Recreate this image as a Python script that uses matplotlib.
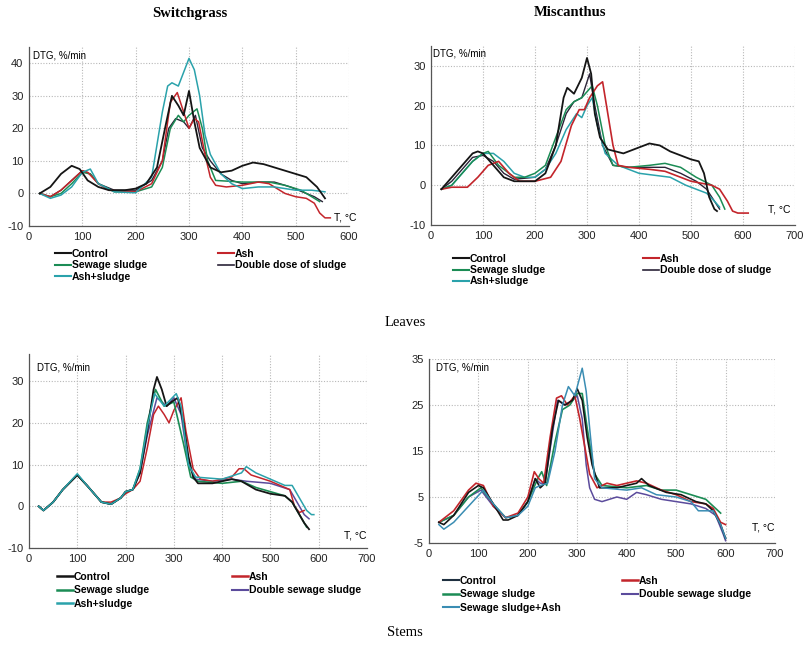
import matplotlib
matplotlib.use("Agg")
import matplotlib.pyplot as plt
from matplotlib.lines import Line2D

plt.rcParams['font.family'] = ['Liberation Sans', 'DejaVu Sans']
plt.rcParams['axes.unicode_minus'] = False

# ---- Switchgrass, leaves ----
sgl_control_T = [20, 40, 60, 80, 95, 110, 130, 150, 180, 200, 220, 240, 255, 268, 280, 290, 300, 310, 320, 340, 360, 380, 400, 420, 440, 460, 480, 500, 520, 540, 555]
sgl_control = [0, 2, 6, 8.5, 7.5, 4, 2, 1, 1, 1.5, 3, 8, 20, 30, 27, 24, 31.5, 22, 14, 8, 6.5, 7, 8.5, 9.5, 9, 8, 7, 6, 5, 2, -1.5]
sgl_ash_T = [20, 40, 60, 80, 100, 110, 130, 150, 200, 230, 250, 265, 278, 290, 300, 310, 318, 330, 340, 350, 370, 400, 430, 450, 480, 500, 520, 535, 545, 555, 565]
sgl_ash = [0, -1, 1, 4, 7, 6.5, 3, 1, 0.5, 3, 10, 28, 31, 25, 20, 23, 22, 12, 5, 2.5, 2, 2.5, 3.5, 3, 0, -1, -1.5, -3, -6, -7.5, -7.5]
sgl_sludge_T = [20, 40, 60, 80, 100, 115, 130, 160, 200, 230, 250, 265, 280, 290, 300, 315, 325, 335, 350, 400, 450, 480, 510, 530, 545]
sgl_sludge = [0, -1, 0, 3, 6.5, 6, 3, 0.5, 0.5, 2, 8, 20, 24, 22, 24, 26, 20, 10, 4, 3.5, 3.5, 2.5, 1, -1, -2.5]
sgl_ashsl_T = [20, 40, 60, 80, 100, 115, 130, 160, 200, 230, 250, 260, 268, 280, 300, 310, 320, 330, 340, 360, 380, 400, 430, 460, 500, 530, 555]
sgl_ashsl = [0, -1.5, -0.5, 2, 6.5, 7.5, 3, 0.5, 0.2, 5, 25, 33, 34, 33, 41.5, 38, 30, 18, 12, 6, 3, 1.5, 2, 2, 1, 1, 0.5]
sgl_double_T = [20, 40, 60, 80, 100, 115, 130, 160, 200, 230, 250, 262, 275, 290, 300, 312, 325, 340, 360, 380, 400, 430, 460, 490, 520, 535, 550]
sgl_double = [0, -1, 1, 4, 7, 6, 3, 1, 1, 4, 10, 20, 23, 22, 20, 24, 14, 10, 6, 4, 3, 3.5, 3.5, 2, 0, -1, -2.5]

# ---- Miscanthus, leaves ----
msl_control_T = [20, 40, 60, 80, 90, 100, 120, 140, 160, 200, 220, 240, 255, 262, 275, 290, 300, 308, 315, 325, 340, 370, 400, 420, 440, 460, 480, 500, 515, 525, 535, 545, 550]
msl_control = [-1, 2, 5, 8, 8.5, 8, 5, 2, 1, 1, 3, 10, 22, 24.5, 23, 27, 32, 28, 18, 12, 9, 8, 9.5, 10.5, 10, 8.5, 7.5, 6.5, 6, 3, -3, -6, -6.5]
msl_ash_T = [20, 40, 70, 90, 110, 130, 150, 170, 200, 230, 250, 270, 285, 295, 305, 320, 330, 340, 350, 360, 380, 420, 450, 480, 500, 520, 540, 555, 570, 580, 590, 610]
msl_ash = [-1, -0.5, -0.5, 2, 5, 6, 3, 1, 1, 2, 6, 15, 19, 19, 22, 25, 26, 18, 10, 5, 4.5, 4, 3.5, 2, 1, 0.5, 0, -1, -4, -6.5, -7, -7]
msl_sludge_T = [20, 40, 60, 80, 100, 110, 130, 160, 180, 200, 220, 240, 260, 275, 290, 310, 320, 335, 350, 380, 420, 450, 480, 510, 540, 555, 565]
msl_sludge = [-1, 0, 3, 6, 8, 8.5, 5, 2, 2, 3, 5, 12, 19, 21, 22, 25, 20, 10, 5, 4.5, 5, 5.5, 4.5, 2, 0, -3, -6]
msl_ashsl_T = [20, 40, 60, 80, 100, 120, 140, 160, 180, 200, 220, 240, 260, 280, 290, 300, 310, 320, 335, 360, 380, 400, 430, 460, 490, 510, 530, 545, 555]
msl_ashsl = [-1, 0, 3, 6, 8, 8, 6, 3, 2, 2, 4, 8, 14, 18, 17, 20, 22, 15, 8, 5, 4, 3, 2.5, 2, 0, -1, -2, -4, -5.5]
msl_double_T = [20, 40, 60, 80, 100, 120, 140, 160, 200, 220, 240, 260, 275, 290, 305, 315, 330, 350, 380, 420, 450, 480, 510, 530, 545, 555]
msl_double = [-1, 1, 4, 7, 7.5, 6, 3, 1.5, 2, 4, 10, 18, 21, 22, 28, 20, 10, 5, 4.5, 4.5, 4.5, 3, 1, -1, -4, -6]

# ---- Switchgrass, stems ----
sgs_control_T = [20, 30, 50, 70, 100, 120, 150, 170, 190, 200, 215, 230, 245, 258, 265, 275, 285, 295, 308, 320, 330, 340, 350, 380, 420, 440, 470, 500, 530, 545, 560, 570, 580]
sgs_control = [0, -1, 1, 4, 7.5, 5, 1, 0.5, 2, 3.5, 4, 8, 18, 28, 31, 28, 24, 25, 26, 20, 12, 7, 5.5, 5.5, 6.5, 6, 4, 3, 2.5, 1, -2, -4, -5.5]
sgs_ash_T = [20, 30, 50, 70, 100, 120, 150, 170, 190, 200, 215, 230, 245, 258, 268, 280, 290, 300, 315, 325, 340, 355, 380, 420, 435, 445, 460, 500, 540, 550, 560, 570]
sgs_ash = [0, -1, 1, 4, 7.5, 5, 1, 1, 2, 3, 4, 6, 14, 22, 24, 22, 20, 23, 26, 18, 9, 6.5, 6, 7, 9, 9, 7.5, 6, 4, 0, -1.5, -1]
sgs_sludge_T = [20, 30, 50, 70, 100, 120, 150, 170, 190, 200, 215, 230, 245, 262, 280, 300, 320, 335, 350, 400, 440, 470, 500, 530, 545, 560, 575]
sgs_sludge = [0, -1, 1, 4, 7.5, 5, 1, 0.5, 2, 3.5, 4, 9, 20, 28, 24, 25, 15, 7, 6, 5.5, 6, 4.5, 3.5, 2.5, 1, -2, -5]
sgs_double_T = [20, 30, 50, 70, 100, 120, 150, 170, 190, 200, 215, 230, 245, 265, 285, 300, 315, 330, 345, 380, 420, 450, 500, 540, 555, 570, 580]
sgs_double = [0, -1, 1, 4, 7.5, 5, 1, 0.5, 2, 3.5, 4, 8, 17, 26, 24, 26, 22, 10, 6.5, 6, 6.5, 6, 5.5, 4, 1, -2, -3]
sgs_ashsl_T = [20, 30, 50, 70, 100, 120, 150, 170, 190, 200, 215, 230, 245, 260, 280, 305, 315, 330, 345, 400, 440, 450, 470, 500, 530, 545, 560, 575, 585, 590]
sgs_ashsl = [0, -1, 1, 4, 7.8, 5, 1, 0.5, 2, 3.5, 4, 9, 19, 27, 24, 27, 24, 10, 7, 6.5, 8, 9.5, 8, 6.5, 5, 5, 2, -1, -2, -2]

# ---- Miscanthus, stems ----
mss_control_T = [20, 30, 50, 80, 100, 110, 130, 150, 160, 180, 200, 215, 225, 235, 250, 262, 275, 290, 300, 310, 320, 330, 345, 380, 400, 420, 430, 445, 480, 510, 540, 560, 575, 590, 600]
mss_control = [-0.5, -1, 1, 6, 7.5, 7, 3.5, 0, 0, 1, 4, 9, 7, 8, 20, 26, 25, 26, 28.5, 26, 18, 12, 7, 7, 7.5, 8, 9, 7.5, 6, 5.5, 4, 3.5, 2, -1, -4]
mss_ash_T = [20, 50, 80, 95, 110, 130, 155, 180, 200, 213, 222, 232, 245, 258, 268, 280, 295, 305, 315, 325, 340, 360, 380, 400, 420, 440, 470, 500, 530, 560, 575, 590, 600]
mss_ash = [-0.5, 2, 6.5, 8, 7.5, 3, 0.5, 1.5, 5, 10.5, 9, 8, 18, 26.5, 27, 25, 27, 22, 16, 10, 7, 8, 7.5, 8, 8.5, 8, 6.5, 5.5, 4, 3.5, 2.5, -0.5, -1]
mss_sludge_T = [20, 50, 80, 105, 130, 155, 180, 200, 220, 228, 238, 255, 270, 285, 300, 310, 320, 335, 350, 400, 440, 470, 500, 530, 560, 580, 590]
mss_sludge = [-0.5, 1, 5, 7, 3.5, 0.5, 1, 4, 9, 10.5, 7.5, 17, 24, 25, 27.5, 27.5, 20, 10, 7.5, 7, 7.5, 6.5, 6.5, 5.5, 4.5, 2.5, 1.5]
mss_double_T = [20, 50, 80, 105, 130, 155, 180, 200, 215, 225, 235, 250, 260, 275, 290, 300, 310, 318, 325, 335, 350, 380, 400, 420, 440, 470, 500, 530, 560, 580, 595, 600]
mss_double = [-0.5, 1, 5, 6.5, 3, 0.5, 1, 4, 9, 8, 8, 19, 26, 25, 26, 27, 22, 12, 7, 4.5, 4, 5, 4.5, 6, 5.5, 4.5, 4, 3.5, 2.5, 1, -3, -4.5]
mss_slash_T = [20, 30, 50, 80, 110, 130, 155, 180, 200, 215, 225, 240, 255, 270, 282, 295, 310, 318, 325, 335, 350, 400, 430, 460, 500, 530, 545, 560, 575, 590, 600]
mss_slash = [-1, -2, -0.5, 3, 6.5, 3.5, 0.5, 1, 3, 7, 7.5, 8, 15, 25, 29, 27, 33, 28, 20, 9, 7, 6.5, 7, 5.5, 5, 4, 2, 2, 2, -1, -4]

BLACK = '#151515'
RED = '#c3252b'
GREEN = '#1b8c55'
TEAL = '#2aa2ab'
DARK = '#2b2438'
PURPLE = '#5b4b9c'
BLUE = '#3a8db3'

W, H = 804, 652
fig = plt.figure(figsize=(W / 100, H / 100), dpi=100)


def px_axes(x0, y_top, x1, y_bot):
    return fig.add_axes([x0 / W, 1 - y_bot / H, (x1 - x0) / W, (y_bot - y_top) / H])


def style(ax, xmax, ylo, yhi, yticks, xlabel_xy, ylabel_xy):
    ax.set_xlim(0, xmax)
    ax.set_ylim(ylo, yhi)
    ax.set_xticks(range(0, xmax + 1, 100))
    ax.set_yticks(yticks)
    ax.grid(True, color='#b8b8b8', linestyle=(0, (1, 1.5)), linewidth=0.8)
    ax.set_axisbelow(True)
    for s in ('top', 'right'):
        ax.spines[s].set_visible(False)
    for s in ('left', 'bottom'):
        ax.spines[s].set_color('#555555')
        ax.spines[s].set_linewidth(0.9)
    ax.tick_params(length=0, labelsize=8, pad=4, colors='#222222')
    fig.text(ylabel_xy[0] / W, 1 - ylabel_xy[1] / H, 'DTG, %/min', fontsize=7, va='top', ha='left')
    fig.text(xlabel_xy[0] / W, 1 - xlabel_xy[1] / H, 'T, °C', fontsize=7.5, va='center', ha='right')


def legends(ax, items, x1, x2, y, gap):
    h = [Line2D([], [], color=c, lw=lw) for (_, c, lw) in items]
    lab = [l for (l, _, _) in items]
    kw = dict(loc='upper left', frameon=False, borderpad=0, borderaxespad=0,
              handlelength=1.5, handletextpad=0.1, labelspacing=gap,
              bbox_transform=fig.transFigure,
              prop={'weight': 'bold', 'size': 7.5})
    l1 = ax.legend(h[:3], lab[:3], bbox_to_anchor=(x1 / W, 1 - y / H), **kw)
    ax.add_artist(l1)
    ax.legend(h[3:], lab[3:], bbox_to_anchor=(x2 / W, 1 - y / H), **kw)


# top left
ax = px_axes(29, 47, 349, 226)
ax.plot(sgl_double_T, sgl_double, color=DARK, lw=1.0)
ax.plot(sgl_sludge_T, sgl_sludge, color=GREEN, lw=1.1)
ax.plot(sgl_ash_T, sgl_ash, color=RED, lw=1.1)
ax.plot(sgl_ashsl_T, sgl_ashsl, color=TEAL, lw=1.1)
ax.plot(sgl_control_T, sgl_control, color=BLACK, lw=1.3)
style(ax, 600, -10, 45, [-10, 0, 10, 20, 30, 40], (357, 217), (33, 50))
legends(ax, [('Control', BLACK, 1.5), ('Sewage sludge', GREEN, 1.5), ('Ash+sludge', TEAL, 1.5),
             ('Ash', RED, 1.5), ('Double dose of sludge', DARK, 1.2)], 55, 218, 249, 0.12)

# top right
ax = px_axes(431, 46, 795, 225)
ax.plot(msl_double_T, msl_double, color=DARK, lw=1.0)
ax.plot(msl_ashsl_T, msl_ashsl, color=TEAL, lw=1.1)
ax.plot(msl_sludge_T, msl_sludge, color=GREEN, lw=1.1)
ax.plot(msl_ash_T, msl_ash, color=RED, lw=1.2)
ax.plot(msl_control_T, msl_control, color=BLACK, lw=1.3)
style(ax, 700, -10, 35, [-10, 0, 10, 20, 30], (791, 210), (433, 48))
legends(ax, [('Control', BLACK, 1.5), ('Sewage sludge', GREEN, 1.5), ('Ash+sludge', TEAL, 1.5),
             ('Ash', RED, 1.5), ('Double dose of sludge', DARK, 1.2)], 453, 643, 254, 0.12)

# bottom left
ax = px_axes(29, 354, 367, 548)
ax.plot(sgs_double_T, sgs_double, color=PURPLE, lw=1.1)
ax.plot(sgs_ash_T, sgs_ash, color=RED, lw=1.1)
ax.plot(sgs_sludge_T, sgs_sludge, color=GREEN, lw=1.2)
ax.plot(sgs_control_T, sgs_control, color=BLACK, lw=1.3)
ax.plot(sgs_ashsl_T, sgs_ashsl, color=TEAL, lw=1.1)
style(ax, 700, -10, 36.5, [-10, 0, 10, 20, 30], (367, 536), (37, 362))
legends(ax, [('Control', BLACK, 1.8), ('Sewage sludge', GREEN, 1.8), ('Ash+sludge', TEAL, 1.8),
             ('Ash', RED, 1.8), ('Double sewage sludge', PURPLE, 1.5)], 57, 232, 572, 0.32)

# bottom right
ax = px_axes(429, 359, 775, 543)
ax.plot(mss_double_T, mss_double, color=PURPLE, lw=1.1)
ax.plot(mss_sludge_T, mss_sludge, color=GREEN, lw=1.2)
ax.plot(mss_ash_T, mss_ash, color=RED, lw=1.2)
ax.plot(mss_control_T, mss_control, color=BLACK, lw=1.2)
ax.plot(mss_slash_T, mss_slash, color=BLUE, lw=1.1)
style(ax, 700, -5, 35, [-5, 5, 15, 25, 35], (775, 528), (436, 363))
legends(ax, [('Control', '#1f3040', 1.5), ('Sewage sludge', GREEN, 1.8), ('Sewage sludge+Ash', BLUE, 1.5),
             ('Ash', RED, 1.8), ('Double sewage sludge', PURPLE, 1.5)], 443, 622, 576, 0.32)

serif = ['Liberation Serif', 'DejaVu Serif']
fig.text(190 / W, 1 - 13 / H, 'Switchgrass', family=serif, weight='bold', fontsize=10.5, ha='center', va='center')
fig.text(570 / W, 1 - 13 / H, 'Miscanthus', family=serif, weight='bold', fontsize=10.5, ha='center', va='center')
fig.text(405 / W, 1 - 322 / H, 'Leaves', family=serif, fontsize=10.5, ha='center', va='center')
fig.text(405 / W, 1 - 633 / H, 'Stems', family=serif, fontsize=10.5, ha='center', va='center')

fig.savefig('out.png', dpi=100)
